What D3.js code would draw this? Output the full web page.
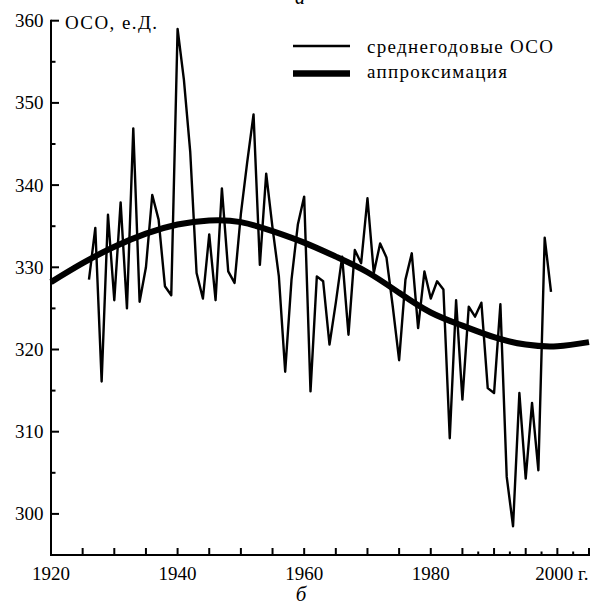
<!DOCTYPE html>
<html>
<head>
<meta charset="utf-8">
<script src="https://cdn.jsdelivr.net/npm/d3@7"></script>
<style>
  body { margin: 0; background: #fff; }
  svg { display: block; }
</style>
</head>
<body>
<div id="chart"></div>
<script>
// годы наблюдений
var years = [1926, 1927, 1928, 1929, 1930, 1931, 1932, 1933, 1934, 1935,
  1936, 1937, 1938, 1939, 1940, 1941, 1942, 1943, 1944, 1945,
  1946, 1947, 1948, 1949, 1950, 1951, 1952, 1953, 1954, 1955,
  1956, 1957, 1958, 1959, 1960, 1961, 1962, 1963, 1964, 1965,
  1966, 1967, 1968, 1969, 1970, 1971, 1972, 1973, 1974, 1975,
  1976, 1977, 1978, 1979, 1980, 1981, 1982, 1983, 1984, 1985,
  1986, 1987, 1988, 1989, 1990, 1991, 1992, 1993, 1994, 1995,
  1996, 1997, 1998, 1999];
// среднегодовые ОСО, е.Д.
var oso = [328.5, 334.8, 316.1, 336.4, 326.0, 337.9, 325.0, 346.9, 325.8, 330.0,
  338.8, 335.8, 327.7, 326.6, 359.0, 352.8, 344.0, 329.3, 326.2, 334.0,
  326.0, 339.6, 329.5, 328.1, 336.5, 342.8, 348.6, 330.3, 341.4, 334.8,
  328.9, 317.3, 328.5, 335.2, 338.6, 314.9, 328.9, 328.3, 320.6, 325.7,
  331.3, 321.8, 332.1, 330.5, 338.4, 329.3, 332.9, 331.2, 325.2, 318.7,
  328.5, 331.7, 322.6, 329.5, 326.2, 328.3, 327.3, 309.2, 326.0, 313.9,
  325.2, 324.0, 325.7, 315.3, 314.7, 325.5, 304.5, 298.5, 314.7, 304.3,
  313.5, 305.3, 333.6, 327.0];
// аппроксимация
var fitYears = [1920, 1925, 1930, 1935, 1940, 1945, 1950, 1955, 1960,
  1965, 1970, 1975, 1980, 1985, 1990, 1995, 2000, 2005];
var fitValues = [328.2, 330.5, 332.5, 334.1, 335.2, 335.7, 335.5, 334.4, 333.0,
  331.3, 329.4, 326.9, 324.5, 322.9, 321.5, 320.6, 320.4, 320.9];

var yLabels = [300, 310, 320, 330, 340, 350, 360];
var xLabels = [1920, 1940, 1960, 1980, 2000];
var legendNames = ['среднегодовые ОСО', 'аппроксимация'];

var W = 599, H = 606;
var FONT = '"Liberation Serif", "DejaVu Serif", "Times New Roman", serif';
var svg = d3.select('#chart').append('svg').attr('width', W).attr('height', H)
  .attr('font-family', FONT);

var x = d3.scaleLinear().domain([1920, 2005]).range([51, 589]);
var y = d3.scaleLinear().domain([295, 360]).range([555, 20.7]);

function txt(px, py, s, size) {
  return svg.append('text').attr('x', px).attr('y', py)
    .attr('font-family', FONT).attr('font-size', size || 19)
    .attr('fill', '#000').text(s);
}

// оси
var xMajor = d3.range(1925, 2006, 5);
var xMinor = [1987.5, 1992.5, 1997.5, 2002.5];
var yMinor = d3.range(305, 360, 10);

var axes = svg.append('g').attr('stroke', '#000').attr('stroke-width', 2);
axes.append('line').attr('x1', x(1920) - 1).attr('x2', x(2005) + 1)
  .attr('y1', y(295)).attr('y2', y(295));
axes.append('line').attr('x1', x(1920)).attr('x2', x(1920))
  .attr('y1', y(360) - 1).attr('y2', y(295));

axes.selectAll('.xt').data(xMajor).enter().append('line')
  .attr('x1', function (d) { return x(d); }).attr('x2', function (d) { return x(d); })
  .attr('y1', y(295)).attr('y2', y(295) - 7);
axes.selectAll('.xm').data(xMinor).enter().append('line')
  .attr('x1', function (d) { return x(d); }).attr('x2', function (d) { return x(d); })
  .attr('y1', y(295)).attr('y2', y(295) - 3.5);
axes.selectAll('.yt').data(yLabels).enter().append('line')
  .attr('x1', x(1920)).attr('x2', x(1920) + 8)
  .attr('y1', function (d) { return y(d); }).attr('y2', function (d) { return y(d); });
axes.selectAll('.ym').data(yMinor).enter().append('line')
  .attr('x1', x(1920)).attr('x2', x(1920) + 4.5)
  .attr('y1', function (d) { return y(d); }).attr('y2', function (d) { return y(d); });

// подписи осей
yLabels.forEach(function (d) {
  txt(43.5, y(d) + 6.5, d).attr('text-anchor', 'end');
});
xLabels.forEach(function (d) {
  // подпись 2000 чуть левее, как в оригинале
  txt(x(d) - (d == 2000 ? 3 : 0), 579.5, d).attr('text-anchor', 'middle');
});
txt(578, 579.5, 'г.');
txt(65, 28.5, 'ОСО, е.Д.').attr('textLength', 92);

txt(300, 4, 'а', 20).attr('text-anchor', 'middle').attr('font-style', 'italic');
txt(301, 601, 'б', 21).attr('text-anchor', 'middle').attr('font-style', 'italic');

// линии данных
var rows = years.map(function (d, i) { return {year: d, v: oso[i]}; });
var fit = fitYears.map(function (d, i) { return {year: d, v: fitValues[i]}; });

var line = d3.line()
  .x(function (d) { return x(d.year); })
  .y(function (d) { return y(d.v); });

svg.append('path').datum(rows).attr('d', line)
  .attr('fill', 'none').attr('stroke', '#000').attr('stroke-width', 2.4)
  .attr('stroke-linejoin', 'round');

svg.append('path').datum(fit).attr('d', line.curve(d3.curveNatural))
  .attr('fill', 'none').attr('stroke', '#000').attr('stroke-width', 6);

// легенда
svg.append('line').attr('x1', 293).attr('x2', 350).attr('y1', 46).attr('y2', 46)
  .attr('stroke', '#000').attr('stroke-width', 2.3);
svg.append('line').attr('x1', 293).attr('x2', 350).attr('y1', 73.5).attr('y2', 73.5)
  .attr('stroke', '#000').attr('stroke-width', 6.5);
txt(367, 53.3, legendNames[0]).attr('textLength', 186);
txt(367, 77.5, legendNames[1]).attr('textLength', 140);
</script>
</body>
</html>
